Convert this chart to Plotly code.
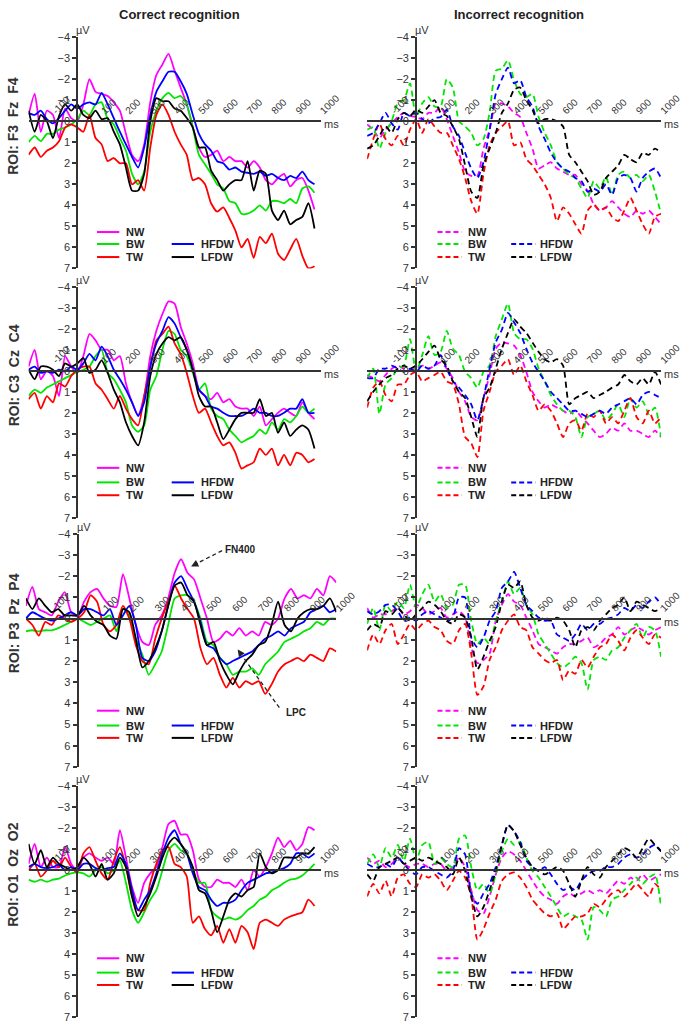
import plotly.graph_objects as go

# ---------------- data (µV) ----------------
TIME = list(range(-200, 1001, 25))
COND = ["NW", "BW", "TW", "HFDW", "LFDW"]
COLORS = {"NW": "#ff00ff", "BW": "#00e600", "TW": "#ff0000", "HFDW": "#0000ff", "LFDW": "#000000"}
ROI_LABELS = ["ROI: F3  Fz  F4", "ROI: C3  Cz  C4", "ROI: P3  Pz  P4", "ROI: O1  Oz  O2"]
COL_TITLES = ["Correct recognition", "Incorrect recognition"]
XTICKS = [-100, 100, 200, 300, 400, 500, 600, 700, 800, 900, 1000]
YTICKS = list(range(-4, 8))

# Frontal, correct
F_COR_NW = [-0.3, -1.3, 0.5, -0.5, -0.3, 0.8, -0.6, -0.15, 0.0, -0.8, -2.0, -1.4, -1.3, -1.2, -0.9, -0.5, 0.6, 1.6, 1.9, 1.1, -0.9, -2.2, -2.7, -3.2, -2.4, -1.6, -0.8, 0.3, 1.25, 1.7, 1.6, 1.4, 1.9, 1.7, 1.9, 1.9, 2.2, 1.9, 2.2, 2.8, 3.0, 2.7, 2.5, 3.1, 2.8, 2.7, 3.3, 4.2]
F_COR_BW = [1.0, 0.7, 0.95, 0.6, 0.6, 0.4, 0.3, 0.15, -0.1, -0.5, -0.3, -0.8, -0.9, -0.1, 0.15, 0.8, 1.4, 2.5, 3.0, 2.4, 0.5, -0.5, -1.1, -1.35, -1.1, -1.2, -0.8, 0.3, 1.6, 2.05, 2.5, 3.0, 3.2, 3.8, 3.9, 4.4, 4.4, 4.25, 4.0, 4.25, 3.8, 3.8, 3.9, 3.7, 3.9, 3.2, 3.1, 3.4]
F_COR_TW = [1.6, 1.25, 1.7, 1.4, 1.25, 0.95, 0.3, 0.15, 0.3, 0.5, -0.3, 0.8, 1.1, 1.9, 1.75, 2.0, 2.0, 3.0, 2.8, 3.3, 1.25, -0.3, -0.8, -0.3, 0.5, 1.1, 1.6, 2.8, 2.7, 3.0, 3.9, 4.3, 4.1, 4.6, 5.2, 6.0, 5.6, 6.5, 5.5, 5.8, 5.35, 6.3, 6.6, 6.1, 5.6, 6.4, 7.0, 6.9]
F_COR_HF = [-0.4, -0.3, -0.5, -0.1, 0.1, -0.15, -0.5, -0.8, -0.6, -0.8, -0.9, -0.8, -1.35, -0.8, -0.15, 0.5, 1.1, 1.7, 2.2, 1.25, -0.3, -1.4, -1.9, -2.35, -2.35, -1.9, -1.3, -0.3, 0.6, 1.1, 1.4, 1.9, 2.0, 2.3, 2.2, 2.4, 2.45, 2.5, 2.4, 2.6, 2.5, 2.7, 2.8, 2.6, 2.7, 2.4, 2.8, 3.0]
F_COR_LF = [-0.5, 0.5, -0.3, 0.0, 0.8, -0.25, -0.8, -0.5, -0.8, -0.3, -0.15, -0.5, -0.1, -0.15, 0.5, 1.1, 2.2, 3.3, 3.3, 2.5, 0.0, -1.1, -0.95, -0.95, -0.6, -0.5, -0.15, 0.3, 1.25, 1.25, 2.35, 2.8, 3.3, 3.0, 2.8, 2.8, 1.9, 3.3, 2.35, 2.5, 4.25, 4.7, 4.25, 4.9, 4.7, 4.55, 3.9, 5.1]

# Frontal, incorrect
F_INC_NW = [0.15, 0.4, 0.8, 0.4, 0.1, -0.2, -0.4, -0.25, -0.2, -0.1, -0.4, -0.4, -0.7, -0.1, 0.7, 1.5, 2.4, 2.6, 2.6, 1.3, 0.4, -0.85, -0.85, -0.7, -0.4, -0.2, 0.55, 1.3, 2.25, 2.1, 1.95, 2.25, 2.4, 2.55, 2.55, 3.0, 3.3, 3.95, 4.25, 4.1, 3.8, 4.1, 4.4, 4.55, 4.25, 4.4, 4.25, 4.55, 4.9]
F_INC_BW = [0.4, 0.3, 1.3, 0.55, 0.0, -0.85, -1.0, -1.8, -0.2, -0.85, -1.15, -0.7, -0.7, -2.0, -1.6, 0.0, 0.25, 0.55, 1.15, 0.85, -0.4, -2.4, -2.5, -2.9, -1.95, -1.3, -1.15, -1.3, -0.2, 0.55, 1.15, 1.95, 2.25, 2.55, 2.7, 3.2, 3.65, 2.85, 3.2, 2.65, 3.5, 2.55, 2.4, 2.7, 2.55, 2.85, 2.55, 3.35, 4.4]
F_INC_TW = [1.8, 0.85, 0.1, 0.85, 1.15, 0.7, 1.15, 0.4, -0.1, 0.55, -0.1, 0.25, 0.55, 0.55, 1.15, 1.8, 2.7, 3.8, 4.4, 2.5, 1.15, 0.55, 0.25, 0.0, 1.15, 1.0, 1.8, 2.1, 2.55, 3.0, 3.65, 4.75, 4.1, 4.4, 4.9, 5.35, 4.25, 3.95, 4.25, 4.1, 4.55, 4.75, 4.25, 3.65, 4.25, 4.9, 5.35, 4.55, 4.4]
F_INC_HF = [0.7, 0.55, 0.1, -0.4, 0.1, 0.4, -0.4, -0.25, -0.4, -0.1, 0.1, -0.15, -0.2, -0.55, 0.25, 0.7, 1.5, 2.25, 2.7, 1.95, 0.4, -1.3, -2.0, -2.55, -1.8, -1.95, -1.15, -0.7, 0.25, 0.85, 1.5, 1.95, 2.25, 2.4, 2.7, 2.85, 3.35, 3.2, 3.35, 3.0, 3.5, 2.7, 2.55, 2.7, 3.35, 2.7, 2.4, 2.25, 2.7]
F_INC_LF = [1.3, 1.15, 0.7, 0.25, 0.55, -0.1, -0.4, -0.25, -0.55, -0.4, -0.7, -1.0, -0.4, -0.25, 0.25, 0.85, 2.1, 3.35, 3.65, 2.1, 1.3, 0.55, -0.4, -0.85, -1.5, -1.6, -1.0, -0.55, 0.1, -0.1, -0.1, 0.0, 0.25, 1.6, 1.95, 2.4, 2.85, 3.5, 3.35, 2.7, 2.4, 2.1, 1.6, 1.8, 1.95, 1.5, 1.6, 1.3, 1.5]

# Central, correct
C_COR_NW = [-0.2, -1.0, 0.4, 0.0, 0.25, 1.2, -0.7, -0.2, 0.1, -0.7, -1.75, -1.45, -1.0, -1.0, -0.5, -0.7, 0.6, 1.5, 2.1, 1.2, -0.7, -1.9, -2.7, -3.3, -3.2, -2.1, -1.3, -0.35, 0.9, 1.2, 1.35, 1.05, 1.5, 1.35, 1.7, 1.8, 1.8, 2.15, 1.7, 2.6, 2.3, 2.0, 1.8, 2.0, 2.15, 1.5, 2.0, 2.3]
C_COR_BW = [1.2, 0.9, 1.05, 0.8, 0.65, 0.5, 0.35, 0.2, 0.05, -0.05, -0.2, -0.7, -1.0, 0.1, 0.4, 0.9, 1.5, 2.6, 2.9, 2.6, 0.9, 0.25, -1.0, -1.9, -1.75, -1.0, -0.7, 0.1, 0.9, 0.6, 1.8, 2.15, 2.3, 2.8, 3.1, 3.4, 3.25, 3.1, 2.8, 3.0, 2.45, 2.8, 2.3, 2.45, 2.15, 1.7, 2.0, 1.8]
C_COR_TW = [1.35, 1.05, 1.8, 1.2, 1.5, 0.6, 0.75, 0.25, -0.05, -0.2, -0.2, 0.6, 0.9, 1.35, 1.8, 1.2, 1.8, 2.3, 2.6, 1.2, -0.2, -1.45, -1.75, -2.1, -1.3, -0.8, 0.1, 1.2, 2.0, 1.8, 2.45, 3.1, 3.55, 3.4, 3.9, 4.65, 4.5, 4.35, 3.7, 4.0, 3.7, 4.5, 4.0, 4.5, 3.9, 4.0, 4.35, 4.2]
C_COR_HF = [-0.05, -0.2, 0.1, 0.03, 0.1, -0.05, 0.03, -0.2, -0.05, -0.35, -0.8, -0.5, -1.15, -0.7, -0.05, 0.4, 0.9, 1.5, 2.15, 1.5, -0.2, -1.3, -1.9, -2.55, -2.25, -1.6, -1.0, -0.05, 0.9, 1.2, 1.7, 1.8, 2.0, 2.15, 2.15, 2.15, 2.0, 1.8, 2.0, 2.0, 2.15, 2.15, 2.0, 1.8, 1.8, 1.35, 2.0, 2.0]
C_COR_LF = [-0.05, 0.4, -0.2, -0.2, -0.05, 0.25, -0.35, -0.2, -0.35, -0.6, 0.1, -0.05, -0.5, 0.1, 0.9, 1.5, 2.45, 3.1, 3.55, 2.45, 0.25, -0.8, -1.3, -1.6, -1.45, -1.6, -1.0, -0.05, 1.2, 1.7, 1.7, 2.45, 3.25, 2.8, 2.3, 2.0, 2.0, 2.0, 1.35, 2.15, 2.0, 2.95, 2.45, 3.1, 2.8, 2.6, 2.8, 3.7]

# Central, incorrect
C_INC_NW = [0.2, 0.35, 0.5, 0.2, -0.1, -0.25, -0.1, -0.05, -0.1, -0.25, -0.1, -0.25, -0.4, -0.1, 0.35, 1.0, 1.45, 2.2, 2.35, 1.3, 0.2, -1.05, -1.35, -1.3, -1.2, -0.75, 0.05, 1.0, 1.45, 1.75, 1.6, 1.75, 1.9, 2.05, 1.9, 2.2, 2.5, 2.85, 3.15, 3.0, 2.7, 2.85, 2.5, 2.85, 2.85, 3.0, 3.15, 2.85, 3.15]
C_INC_BW = [0.35, -0.1, 2.05, 0.65, 0.35, -0.1, -0.25, -1.5, 0.05, -0.75, -1.65, -0.75, -0.9, -1.9, -1.05, -0.75, 0.05, 0.35, 0.8, 0.05, -0.25, -1.65, -2.45, -3.2, -1.8, -1.5, -1.5, -1.05, -0.1, 0.5, 1.15, 1.6, 1.9, 1.9, 2.2, 3.15, 2.2, 2.05, 1.9, 2.35, 2.05, 1.6, 2.2, 1.3, 1.75, 1.45, 2.05, 1.75, 3.15]
C_INC_TW = [1.75, 0.8, 0.5, 1.15, 1.45, 0.65, 0.65, 0.2, 0.05, 0.5, 0.35, 0.2, 0.05, 0.5, 0.65, 1.6, 3.15, 3.45, 4.1, 1.9, 1.0, 0.05, -0.25, -0.55, 0.2, -0.25, 0.5, 1.15, 1.9, 1.6, 1.9, 2.5, 3.15, 2.5, 2.35, 2.85, 2.05, 2.2, 1.9, 2.5, 2.2, 2.5, 1.9, 1.3, 2.2, 2.5, 1.9, 2.5, 2.2]
C_INC_HF = [0.35, 0.35, -0.1, -0.1, -0.25, -0.1, 0.05, -0.1, 0.05, -0.25, -0.1, -0.25, -0.75, -0.1, 0.5, 0.8, 1.15, 1.6, 2.35, 1.3, -0.1, -1.35, -1.95, -2.75, -2.3, -1.8, -1.05, -0.4, 0.05, 0.5, 1.0, 1.3, 1.6, 1.9, 1.9, 2.05, 2.2, 2.05, 1.9, 2.05, 1.75, 1.6, 1.45, 1.3, 1.6, 1.15, 1.0, 1.15, 1.3]
C_INC_LF = [1.45, 1.0, 0.65, 0.35, 0.2, -0.1, -0.25, -0.1, -0.25, -0.55, -0.9, -1.2, -0.55, -0.25, 0.5, 1.0, 1.3, 2.2, 3.15, 1.3, 0.8, -0.1, -1.05, -1.8, -2.45, -2.1, -1.8, -1.35, -0.9, -0.55, -0.4, -0.55, -0.25, 1.6, 1.3, 1.15, 1.0, 1.3, 1.15, 1.0, 0.8, 0.65, 0.2, 0.5, 0.65, 0.35, 0.65, 0.05, 0.65]

# Parietal, correct
P_COR_NW = [-0.6, -1.5, -0.45, -0.3, -0.15, -0.8, -1.25, -0.3, -0.1, -0.8, -1.25, -1.4, -0.95, -0.6, -0.55, -2.1, -0.95, 0.3, 1.1, 1.25, 0.3, -0.15, -0.95, -2.15, -2.8, -2.15, -1.85, -0.95, 0.0, 1.1, 0.95, 0.6, 0.8, 0.45, 0.8, 0.6, 0.8, 0.15, 0.3, 0.0, -0.95, -1.4, -0.95, -1.1, -0.95, -1.4, -1.1, -2.0, -1.7]
P_COR_BW = [0.6, 0.55, 0.6, 0.55, 0.55, 0.45, 0.3, 0.15, 0.0, 0.15, 0.3, 0.15, 0.0, -0.15, 0.6, -0.45, -0.15, 0.95, 1.7, 2.65, 2.15, 1.55, 0.3, -0.95, -1.1, -1.1, -0.8, 0.0, 1.1, 1.25, 1.85, 2.15, 2.65, 2.5, 2.5, 2.35, 2.65, 2.15, 1.85, 1.55, 1.1, 0.95, 0.8, 0.6, 0.45, 0.15, 0.3, 0.0, 0.0]
P_COR_TW = [0.0, 0.3, 0.8, 0.15, 0.3, -0.15, 0.0, 0.15, 0.0, -0.3, -1.1, -0.8, 0.3, 0.6, 0.3, -0.6, 0.0, 1.25, 2.0, 2.15, 0.95, 0.0, -0.8, -1.55, -0.95, -0.45, 0.0, 1.4, 2.15, 1.85, 2.65, 3.25, 2.8, 3.25, 2.95, 3.1, 2.95, 3.55, 3.1, 2.5, 2.15, 2.0, 1.85, 2.0, 1.7, 1.85, 2.0, 1.4, 1.55]
P_COR_HF = [0.0, -0.3, -0.15, 0.0, 0.1, 0.0, -0.15, -0.3, -0.15, -0.45, -0.45, -0.3, -0.15, -0.45, 0.3, -0.15, -0.6, 0.3, 1.85, 2.0, 1.55, 0.6, -0.6, -1.7, -2.0, -1.4, -0.8, 0.15, 1.25, 1.4, 1.85, 2.15, 2.0, 1.85, 1.7, 1.55, 1.25, 0.95, 0.8, 0.6, 0.8, 0.45, 0.3, 0.15, -0.3, -0.45, -0.6, -0.3, -0.45]
P_COR_LF = [-0.95, -0.45, -0.95, -0.6, -0.3, -0.45, -0.15, -0.15, -0.15, -0.6, -0.15, 0.15, 0.3, 0.8, 0.95, -0.45, -0.3, 0.95, 2.3, 2.0, 1.4, 0.6, -0.6, -1.55, -1.7, -1.1, -0.8, 0.3, 1.25, 1.1, 2.0, 2.65, 3.1, 2.5, 2.0, 1.7, 1.25, 1.1, 0.3, -0.8, 0.3, 0.6, 0.0, -0.3, -0.45, -0.45, -0.6, -0.95, -0.3]

# Parietal, incorrect
P_INC_NW = [-0.5, -0.05, -0.2, -0.2, -0.35, -0.5, -0.2, -0.35, -0.65, -0.5, -0.2, -0.35, -0.5, -0.05, -0.2, -0.35, -0.05, 1.35, 2.1, 1.95, 1.65, 0.1, -0.65, -1.15, -0.8, -0.65, -0.05, 0.55, 1.2, 1.35, 1.5, 1.65, 1.35, 1.2, 1.2, 1.05, 0.9, 1.35, 1.2, 0.9, 0.75, 0.4, 0.75, 0.55, 0.4, 0.55, 0.75, 0.55, 0.4]
P_INC_BW = [0.25, -0.5, 0.55, -0.65, -0.35, -0.8, -0.5, -1.6, -0.5, -1.15, -1.6, -0.8, -1.15, -0.5, -0.65, -1.6, -1.6, 0.1, 1.2, 0.9, 1.2, 0.1, -0.8, -1.75, -1.15, -1.45, -0.65, -0.2, 0.75, 1.2, 1.65, 2.1, 2.3, 2.1, 1.8, 2.1, 3.35, 1.95, 1.8, 1.95, 1.5, 1.35, 0.9, 0.55, 0.25, 0.9, 0.4, 0.55, 1.8]
P_INC_TW = [1.5, 0.75, 1.2, 0.55, 0.25, 1.2, 0.75, 0.25, 0.55, 0.25, 0.1, 0.4, 0.55, 1.05, 1.2, 0.55, 0.25, 1.65, 3.6, 3.2, 1.95, 1.35, 0.55, 0.1, -0.2, 0.4, 0.55, 1.35, 1.65, 1.95, 2.1, 1.95, 2.9, 2.45, 2.6, 1.95, 2.3, 1.8, 1.35, 1.2, 0.75, 1.05, 1.5, 0.9, 0.55, 0.9, 1.2, 0.75, 0.9]
P_INC_HF = [-0.35, -0.2, -0.35, -0.65, -0.65, -0.35, 0.1, -0.05, 0.1, -0.2, -0.35, -0.2, -0.05, 0.1, -0.05, -1.0, -1.0, 0.9, 1.35, 0.9, 0.1, -0.35, -1.45, -1.75, -2.2, -1.45, -0.65, -0.35, -0.05, 0.1, 0.1, 0.75, 0.9, 1.05, 0.75, 0.25, 0.55, 0.25, 0.25, 0.03, -0.05, -0.2, -0.5, -0.35, -0.65, -0.5, -0.8, -1.0, -0.65]
P_INC_LF = [0.55, 0.25, 0.4, -0.35, -0.2, -0.5, -0.2, 0.1, -0.2, -0.5, -0.8, -0.65, -0.35, 0.1, 0.25, -0.2, -0.05, 0.9, 2.4, 1.8, 1.05, 0.4, -0.8, -1.6, -1.45, -1.75, -0.65, -0.05, 0.1, -0.05, 0.1, -0.05, 0.1, 0.55, 1.35, 0.55, 0.4, 0.55, 0.1, -0.2, -0.5, -0.65, -1.0, -0.35, -0.8, -0.65, -0.5, -0.35, -0.5]

# Occipital, correct
O_COR_NW = [-0.3, -1.25, -0.15, -0.6, -0.15, -0.15, -1.1, -0.3, 0.0, -0.6, -0.8, -0.6, -0.45, -0.6, -0.3, -1.9, -0.6, 0.8, 1.55, 0.6, 0.15, -0.15, -1.1, -2.2, -2.35, -1.7, -1.7, -0.95, 0.45, 0.8, 0.8, 0.45, 0.6, 0.6, 0.8, 0.45, 0.95, 0.0, 0.3, -0.15, -0.8, -1.55, -1.1, -1.4, -0.95, -1.25, -2.05, -1.9]
O_COR_BW = [0.45, 0.55, 0.45, 0.55, 0.45, 0.4, 0.25, 0.15, 0.1, 0.15, 0.3, 0.0, -0.15, 0.15, 0.0, -0.45, 0.6, 1.9, 2.5, 2.0, 1.4, 0.95, 0.0, -0.95, -1.25, -0.95, -0.8, 0.0, 0.6, 0.6, 1.9, 2.2, 2.35, 2.25, 2.35, 2.2, 1.9, 1.7, 1.4, 1.25, 0.95, 0.8, 0.6, 0.45, 0.4, 0.25, 0.0, -0.3]
O_COR_TW = [0.0, -0.3, 0.3, 0.0, -0.45, -0.15, -0.6, -0.15, 0.1, -0.8, -1.1, -0.45, 0.15, 0.45, -0.45, -1.1, -0.15, 1.25, 1.9, 1.9, 0.6, -0.3, -0.95, -1.1, -0.3, -0.15, 0.3, 2.5, 2.2, 2.8, 3.1, 2.65, 3.45, 2.8, 3.45, 2.65, 2.95, 3.75, 2.5, 2.35, 2.5, 2.65, 2.35, 2.2, 2.1, 2.0, 1.4, 1.7]
O_COR_HF = [-0.15, -0.3, -0.15, -0.1, -0.15, -0.25, 0.0, -0.15, 0.0, -0.3, -0.3, -0.1, 0.0, -0.1, -0.15, -0.8, -0.3, 0.95, 1.9, 1.4, 0.95, 0.15, -0.8, -1.55, -1.9, -1.25, -0.8, 0.15, 0.8, 0.95, 1.4, 1.7, 1.55, 1.55, 1.4, 0.95, 0.6, 0.45, 0.3, 0.15, 0.1, 0.0, -0.1, -0.3, -0.8, -0.8, -0.6, -0.8]
O_COR_LF = [-1.25, -0.3, -0.95, -0.15, -0.6, -0.3, -0.15, 0.0, -0.15, -0.6, -0.3, 0.3, -0.3, 0.45, 0.15, -0.6, -0.15, 1.25, 2.2, 1.7, 1.1, 0.3, -0.6, -1.25, -1.55, -1.25, -0.8, -0.15, 0.95, 1.1, 1.9, 2.95, 2.2, 1.4, 1.1, 1.25, 0.95, 0.8, -0.8, -0.15, 0.15, 0.0, -0.6, -0.6, -0.6, -0.8, -0.8, -1.1]

# Occipital, incorrect
O_INC_NW = [-0.6, -0.3, -0.45, -0.15, -0.3, -0.6, -0.3, -0.15, -0.3, -0.3, -0.15, -0.3, -0.3, 0.03, -0.15, -0.6, -0.15, 0.95, 1.9, 2.05, 1.25, 0.2, -0.6, -0.9, -0.75, -0.45, 0.03, 0.5, 0.95, 1.25, 1.4, 1.6, 1.25, 1.1, 1.25, 1.1, 0.95, 1.1, 0.95, 1.1, 0.8, 0.5, 0.65, 0.35, 0.5, 0.2, 0.5, 0.35, 0.2]
O_INC_BW = [-0.3, -0.75, -0.15, -1.05, -0.6, -1.2, -0.45, -1.5, -0.45, -1.2, -1.35, -0.3, -0.6, -0.3, -0.15, -1.5, -1.65, -0.15, 0.95, 0.65, 1.1, 0.2, -0.9, -1.5, -1.2, -1.35, -0.6, 0.03, 0.35, 0.8, 1.25, 1.75, 2.2, 2.05, 2.2, 2.35, 3.3, 1.75, 1.9, 2.2, 1.4, 1.25, 0.95, 0.65, 0.35, 0.65, 0.35, 0.2, 1.75]
O_INC_TW = [1.25, 0.65, 1.1, 0.5, 1.25, 0.35, 0.2, 0.65, 0.8, 0.2, 0.35, 0.2, 0.5, 0.95, 0.5, 0.03, 0.35, 1.25, 3.3, 2.8, 2.05, 1.4, 0.5, 0.2, 0.1, 0.35, 0.8, 1.4, 1.75, 2.05, 2.2, 2.05, 2.8, 2.5, 2.2, 2.2, 2.05, 1.6, 1.75, 1.4, 1.1, 0.95, 1.25, 0.95, 0.65, 0.95, 1.25, 0.65, 0.95]
O_INC_HF = [-0.3, -0.15, -0.15, -0.3, -0.15, -0.6, -0.3, 0.03, 0.2, -0.15, -0.15, 0.03, 0.2, 0.35, 0.03, -1.05, -0.75, 1.1, 1.6, 1.1, 0.65, -0.15, -1.2, -2.15, -1.85, -1.35, -0.45, -0.15, 0.03, -0.15, 0.2, 0.65, 0.95, 0.8, 0.95, 0.5, 0.2, 0.03, 0.03, -0.15, -0.15, -0.3, -0.6, -0.75, -0.6, -0.75, -1.05, -1.2, -0.9]
O_INC_LF = [0.2, 0.5, -0.15, -0.3, -0.45, -0.6, -0.3, -0.45, -0.6, -0.45, -0.6, -0.45, -0.3, -0.15, 0.2, -0.6, 0.03, 1.25, 2.2, 1.75, 0.95, 0.03, -1.2, -2.15, -1.85, -1.2, -0.6, -0.15, 0.03, 0.2, 0.03, -0.15, 0.03, 0.65, 1.25, 0.5, -0.15, 0.2, 0.35, -0.15, -0.45, -0.75, -1.05, -0.9, -0.6, -1.05, -1.5, -1.2, -0.9]

PANEL_DATA = [
    [[F_COR_NW, F_COR_BW, F_COR_TW, F_COR_HF, F_COR_LF], [F_INC_NW, F_INC_BW, F_INC_TW, F_INC_HF, F_INC_LF]],
    [[C_COR_NW, C_COR_BW, C_COR_TW, C_COR_HF, C_COR_LF], [C_INC_NW, C_INC_BW, C_INC_TW, C_INC_HF, C_INC_LF]],
    [[P_COR_NW, P_COR_BW, P_COR_TW, P_COR_HF, P_COR_LF], [P_INC_NW, P_INC_BW, P_INC_TW, P_INC_HF, P_INC_LF]],
    [[O_COR_NW, O_COR_BW, O_COR_TW, O_COR_HF, O_COR_LF], [O_INC_NW, O_INC_BW, O_INC_TW, O_INC_HF, O_INC_LF]],
]

# ---------------- layout geometry (pixels) ----------------
W, H = 700, 1031
FONT = "Arial, Liberation Sans, sans-serif"
TXT = "#333333"
ROW_PX = [(31.5, 265.5), (284.0, 518.0), (534.0, 770.0), (789.3, 1023.3)]
COL_PX = [(29.5, 330.5), (378.5, 681.5)]
P3_LEFT_PX = (26.7, 346.7)
LEG_Y = [(228.7, 240.8, 254.0), (467.3, 482.0, 495.0), (713.0, 728.0, 740.5), (963.5, 978.0, 990.5)]
LEG_X = [(100, 123, 128, 177, 200, 205), (451, 476, 480, 527, 552, 555)]


def fx(p):
    return p / W


def fy(p):
    return 1 - p / H


fig = go.Figure()
annotations = []
shapes = []
layout = {}

n = 0
for r in range(4):
    for c in range(2):
        n += 1
        x0, x1 = P3_LEFT_PX if (r == 2 and c == 0) else COL_PX[c]
        ytop, ybot = ROW_PX[r]
        zero_px = ytop + (ybot - ytop) * 4 / 11
        t0_px = x0 + (x1 - x0) * 200 / 1200
        sfx = "" if n == 1 else str(n)
        layout["xaxis" + sfx] = dict(
            domain=[fx(x0), fx(x1)], range=[-200, 1000], anchor="free", position=fy(zero_px),
            side="top", showline=True, linewidth=2, linecolor="#333333", ticks="",
            tickvals=XTICKS, ticktext=[str(v) for v in XTICKS], tickangle=-45,
            tickfont=dict(size=10, color=TXT, family=FONT), showgrid=False, zeroline=False,
        )
        layout["yaxis" + sfx] = dict(
            domain=[fy(ybot), fy(ytop)], range=[7, -4], anchor="free", position=fx(t0_px),
            side="left", showline=True, linewidth=2, linecolor="#333333", ticks="outside",
            ticklen=4, tickwidth=1.5, tickcolor="#333333", tickvals=YTICKS,
            tickfont=dict(size=11, color=TXT, family=FONT), showgrid=False, zeroline=False,
        )
        xr, yr = "x" + sfx, "y" + sfx
        for k, name in enumerate(COND):
            vals = PANEL_DATA[r][c][k]
            fig.add_trace(go.Scatter(
                x=TIME[:len(vals)], y=vals, mode="lines", name=name,
                line=dict(color=COLORS[name], width=1.8, shape="spline", smoothing=0.6,
                          dash="solid" if c == 0 else "6px,4px"),
                xaxis=xr, yaxis=yr, showlegend=False, hoverinfo="skip",
            ))
        # axis unit labels
        annotations.append(dict(x=0, y=-4, xref=xr, yref=yr, text="µV", showarrow=False,
                                xanchor="left", yanchor="bottom", xshift=-3, yshift=-1,
                                font=dict(size=11, color=TXT, family=FONT)))
        if not (r == 2 and c == 0):
            annotations.append(dict(x=1000, y=0, xref=xr, yref=yr, text="ms", showarrow=False,
                                    xanchor="left", yanchor="middle", xshift=1, yshift=-3,
                                    font=dict(size=11, color=TXT, family=FONT)))
        # in-panel legend
        kx0, kx1, tx, kx2, kx3, tx2 = LEG_X[c]
        dash = "solid" if c == 0 else "5px,3px"
        rows = [(kx0, kx1, tx, 0, "NW"), (kx0, kx1, tx, 1, "BW"), (kx0, kx1, tx, 2, "TW"),
                (kx2, kx3, tx2, 1, "HFDW"), (kx2, kx3, tx2, 2, "LFDW")]
        for a, b, t, row, name in rows:
            yy = LEG_Y[r][row]
            shapes.append(dict(type="line", xref="paper", yref="paper", x0=fx(a), x1=fx(b),
                               y0=fy(yy), y1=fy(yy), line=dict(color=COLORS[name], width=2, dash=dash)))
            annotations.append(dict(x=fx(t), y=fy(yy), xref="paper", yref="paper", text="<b>%s</b>" % name,
                                    showarrow=False, xanchor="left", yanchor="middle",
                                    font=dict(size=11, color="#222222", family=FONT)))
        if c == 0:
            annotations.append(dict(x=fx(14), y=fy(zero_px + 5), xref="paper", yref="paper",
                                    text="<b>%s</b>" % ROI_LABELS[r], textangle=-90, showarrow=False,
                                    xanchor="center", yanchor="middle",
                                    font=dict(size=14, color=TXT, family=FONT)))

# column titles
for c, (title, cx) in enumerate(zip(COL_TITLES, [185, 535])):
    annotations.append(dict(x=fx(cx), y=fy(9), xref="paper", yref="paper", text="<b>%s</b>" % title,
                            showarrow=False, xanchor="center", yanchor="middle",
                            font=dict(size=13, color="#222222", family=FONT)))

# FN400 / LPC callouts (parietal, correct)
annotations.append(dict(x=fx(247), y=fy(550), xref="paper", yref="paper", text="<b>FN400</b>",
                        showarrow=False, xanchor="center", yanchor="middle",
                        font=dict(size=10, color="#222222", family=FONT)))
annotations.append(dict(x=fx(305), y=fy(715), xref="paper", yref="paper", text="<b>LPC</b>",
                        showarrow=False, xanchor="center", yanchor="middle",
                        font=dict(size=10, color="#222222", family=FONT)))
shapes.append(dict(type="line", xref="paper", yref="paper", x0=fx(229), y0=fy(551), x1=fx(203), y1=fy(564),
                   line=dict(color="#222222", width=1.3, dash="4px,3px")))
shapes.append(dict(type="line", xref="paper", yref="paper", x0=fx(288), y0=fy(710), x1=fx(250), y1=fy(658),
                   line=dict(color="#222222", width=1.3, dash="4px,3px")))
annotations.append(dict(x=fx(197), y=fy(567), xref="paper", yref="paper", text="", showarrow=True,
                        ax=8, ay=-4, arrowhead=2, arrowsize=1.2, arrowwidth=1.2, arrowcolor="#222222"))
annotations.append(dict(x=fx(245), y=fy(651), xref="paper", yref="paper", text="", showarrow=True,
                        ax=5, ay=7, arrowhead=2, arrowsize=1.2, arrowwidth=1.2, arrowcolor="#222222"))

fig.update_layout(
    width=W, height=H, margin=dict(l=0, r=0, t=0, b=0),
    plot_bgcolor="white", paper_bgcolor="white", showlegend=False,
    font=dict(family=FONT, color=TXT), annotations=annotations, shapes=shapes, **layout,
)

fig.write_html("out.html", config={"displayModeBar": False})
